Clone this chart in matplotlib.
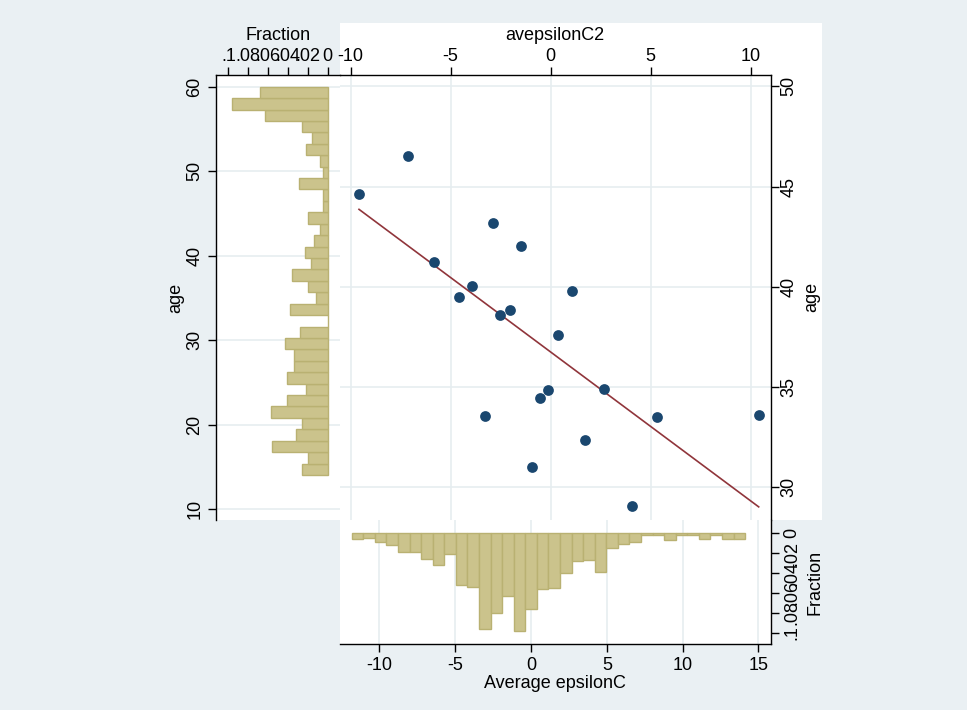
import numpy as np
import matplotlib
matplotlib.use("Agg")
import matplotlib.pyplot as plt
from matplotlib.patches import Rectangle

plt.rcParams['font.family'] = ['Liberation Sans', 'DejaVu Sans']

# ---------------- data ----------------
# scatter: avepsilonC2 vs age
sc_x = [-9.58, -7.15, -5.85, -4.59, -3.94, -2.90, -1.49, -2.54, -2.04, 1.08,
        0.38, -3.30, -0.54, -0.14, 2.68, -0.94, 1.73, 4.08, 5.32, 10.40]
sc_y = [44.64, 46.55, 41.23, 39.51, 40.03, 43.17, 42.06, 38.58, 38.85, 39.80,
        37.60, 33.57, 34.44, 34.87, 34.92, 31.03, 32.35, 29.07, 33.52, 33.59]

# histogram of age (fractions, bins from low to high)
age_bin_start = 14.05
age_bin_width = 1.3515
age_frac = [0.026, 0.020, 0.056, 0.032, 0.026, 0.057, 0.041, 0.022, 0.041, 0.034,
            0.034, 0.043, 0.028, 0.000, 0.038, 0.012, 0.020, 0.036, 0.017, 0.023,
            0.014, 0.008, 0.020, 0.005, 0.005, 0.029, 0.005, 0.008, 0.022, 0.016,
            0.026, 0.063, 0.096, 0.068]

# histogram of Average epsilonC (fractions)
eps_bin_start = -11.83
eps_bin_width = 0.7635
eps_frac = [0.006, 0.005, 0.009, 0.012, 0.019, 0.019, 0.026, 0.032, 0.021, 0.052,
            0.054, 0.096, 0.080, 0.063, 0.098, 0.076, 0.056, 0.055, 0.040, 0.028,
            0.027, 0.039, 0.015, 0.011, 0.009, 0.0015, 0.0015, 0.007, 0.0015, 0.0015,
            0.006, 0.0015, 0.006, 0.006]

frac_ticks = [0.1, 0.08, 0.06, 0.04, 0.02, 0.0]
frac_labels = ['.1', '.08', '.06', '.04', '.02', '0']
age_hist_ticks = [10, 20, 30, 40, 50, 60]
eps_ticks = [-10, -5, 0, 5, 10, 15]
sc_xticks = [-10, -5, 0, 5, 10]
sc_yticks = [30, 35, 40, 45, 50]

# ---------------- style ----------------
BG = '#eaf0f3'
GRID = '#e6edf0'
BAR_FC = '#cbc38c'
BAR_EC = '#b9b172'
NAVY = '#1a476f'
MAROON = '#90353b'
FS = 13

W, H = 967, 710
fig = plt.figure(figsize=(W / 100, H / 100), dpi=100, facecolor=BG)


def ax_px(x0, y0, x1, y1):
    return fig.add_axes([x0 / W, 1 - y1 / H, (x1 - x0) / W, (y1 - y0) / H])


# white region of scatter subgraph
fig.patches.append(Rectangle((340 / W, 1 - 520 / H), (822 - 340) / W, (520 - 23) / H,
                             transform=fig.transFigure, facecolor='white',
                             edgecolor='none', zorder=-5))

# ---------------- scatter ----------------
ax = ax_px(340, 75, 770.7, 520)
ax.set_facecolor('none')
ax.set_xlim(-10.53, 11.0)
ax.set_ylim(28.37, 50.57)
for s in ['left', 'bottom']:
    ax.spines[s].set_visible(False)
for s in ['top', 'right']:
    ax.spines[s].set_linewidth(1.0)
    ax.spines[s].set_color('black')
ax.xaxis.set_ticks_position('top')
ax.yaxis.set_ticks_position('right')
ax.set_xticks(sc_xticks)
ax.set_yticks(sc_yticks)
ax.set_xticklabels([str(v) for v in sc_xticks])
ax.set_yticklabels([str(v) for v in sc_yticks], rotation=90, va='center')
ax.tick_params(axis='x', direction='out', length=6, width=1, labelsize=FS, pad=1.5)
ax.tick_params(axis='y', direction='out', length=6, width=1, labelsize=FS, pad=1)
ax.grid(True, color=GRID, lw=1.2)
ax.set_axisbelow(True)
ax.scatter(sc_x, sc_y, s=60, color=NAVY, zorder=3, linewidths=0)
b, a = np.polyfit(sc_x, sc_y, 1)
xs = np.array([min(sc_x), max(sc_x)])
ax.plot(xs, a + b * xs, color=MAROON, lw=1.2, zorder=2)

# ---------------- left histogram (age) ----------------
axl = ax_px(216, 75, 340, 520)
axl.set_facecolor('white')
axl.set_xlim(0.1124, -0.0124)
axl.set_ylim(8.73, 61.38)
for s in ['right', 'bottom']:
    axl.spines[s].set_visible(False)
for s in ['top', 'left']:
    axl.spines[s].set_linewidth(1.0)
axl.xaxis.set_ticks_position('top')
axl.set_xticks(frac_ticks)
axl.set_xticklabels(frac_labels)
axl.set_yticks(age_hist_ticks)
axl.set_yticklabels([str(v) for v in age_hist_ticks], rotation=90, va='center')
axl.tick_params(axis='x', direction='out', length=6, width=1, labelsize=FS, pad=1.5)
axl.tick_params(axis='y', direction='out', length=6, width=1, labelsize=FS, pad=3)
axl.yaxis.grid(True, color=GRID, lw=1.2)
axl.set_axisbelow(True)
age_bottoms = [age_bin_start + i * age_bin_width for i in range(len(age_frac))]
axl.barh(age_bottoms, age_frac, height=age_bin_width, align='edge',
         color=BAR_FC, edgecolor=BAR_EC, linewidth=1.0, zorder=2)

# ---------------- bottom histogram (Average epsilonC) ----------------
axb = ax_px(340, 520, 770.7, 644.3)
axb.set_facecolor('white')
axb.set_xlim(-12.6, 15.81)
axb.set_ylim(0.1117, -0.0134)
for s in ['left', 'top']:
    axb.spines[s].set_visible(False)
for s in ['right', 'bottom']:
    axb.spines[s].set_linewidth(1.0)
axb.yaxis.set_ticks_position('right')
axb.set_xticks(eps_ticks)
axb.set_xticklabels([str(v) for v in eps_ticks])
axb.set_yticks(frac_ticks)
axb.set_yticklabels(frac_labels, rotation=90, va='center')
axb.tick_params(axis='x', direction='out', length=6, width=1, labelsize=FS, pad=3)
axb.tick_params(axis='y', direction='out', length=6, width=1, labelsize=FS, pad=3)
axb.xaxis.grid(True, color=GRID, lw=1.2)
axb.set_axisbelow(True)
eps_lefts = [eps_bin_start + i * eps_bin_width for i in range(len(eps_frac))]
axb.bar(eps_lefts, eps_frac, width=eps_bin_width, align='edge',
        color=BAR_FC, edgecolor=BAR_EC, linewidth=1.0, zorder=2)

# ---------------- axis titles ----------------
def ftxt(x, y, s, rot=0):
    fig.text(x / W, 1 - y / H, s, ha='center', va='center', rotation=rot,
             fontsize=FS)

ftxt(278, 35, 'Fraction')
ftxt(176, 298, 'age', 90)
ftxt(555, 36, 'avepsilonC2')
ftxt(812, 297, 'age', 90)
ftxt(555, 684, 'Average epsilonC')
ftxt(815, 582, 'Fraction', 90)

fig.savefig('out.png', dpi=100, facecolor=BG)
